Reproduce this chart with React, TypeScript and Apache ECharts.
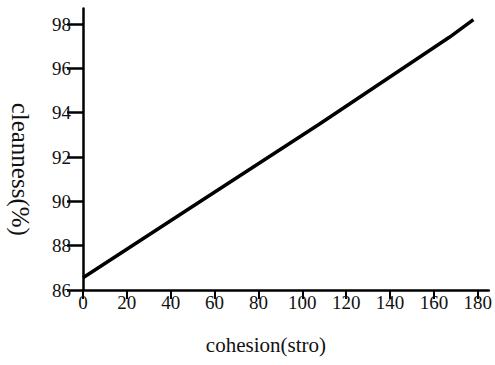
import React, { useEffect, useRef } from "react";
import * as echarts from "echarts";

// Readings of cleanness against cohesion along the fitted line
const cohesion = [0, 45, 108, 167, 178];
const cleanness = [86.55, 89.45, 93.5, 97.4, 98.2];

const FONT = "Liberation Serif";

const tickLabel = (v: number) => `{s|${v}}`;
const tickRich = { s: { fontFamily: FONT, fontSize: 19, color: "#111" } };

export default function App() {
  const ref = useRef<HTMLDivElement>(null);

  useEffect(() => {
    if (!ref.current) return;
    const chart = echarts.init(ref.current, null, { renderer: "svg" });
    chart.setOption({
      animation: false,
      backgroundColor: "#ffffff",
      textStyle: { fontFamily: FONT },
      grid: { left: 80, right: 6, top: 8.5, bottom: 75 },
      xAxis: {
        type: "value",
        min: 0,
        max: 185,
        interval: 20,
        name: "cohesion(stro)",
        nameLocation: "middle",
        nameGap: 44,
        nameTextStyle: {
          fontFamily: FONT,
          fontSize: 21,
          color: "#111",
          padding: [0, 40, 0, 0],
        },
        axisLine: { show: true, lineStyle: { color: "#000", width: 2.5 } },
        axisTick: {
          show: true,
          length: 9,
          lineStyle: { color: "#000", width: 2 },
        },
        axisLabel: {
          showMaxLabel: false,
          formatter: tickLabel,
          rich: tickRich,
          fontFamily: FONT,
          fontSize: 19,
          color: "#111",
          margin: 3,
        },
        splitLine: { show: false },
      },
      yAxis: {
        type: "value",
        min: 86,
        max: 98.7,
        interval: 2,
        name: "cleanness(%)",
        nameLocation: "middle",
        nameRotate: -90,
        nameGap: 50,
        nameTextStyle: {
          fontFamily: FONT,
          fontSize: 25,
          color: "#111",
          padding: [0, 0, 0, 40],
        },
        axisLine: { show: true, lineStyle: { color: "#000", width: 2.5 } },
        axisTick: {
          show: true,
          inside: false,
          length: 16,
          lineStyle: { color: "#000", width: 2.5, opacity: 1 },
        },
        axisLabel: {
          showMaxLabel: false,
          formatter: tickLabel,
          rich: tickRich,
          fontFamily: FONT,
          fontSize: 19,
          color: "#111",
          margin: 12,
        },
        splitLine: { show: false },
      },
      series: [
        {
          type: "line",
          data: cohesion.map((x, i) => [x, cleanness[i]]),
          showSymbol: false,
          symbol: "none",
          lineStyle: { color: "#000", width: 3.5 },
        },
      ],
    });
    return () => chart.dispose();
  }, []);

  return <div ref={ref} style={{ width: 495, height: 365, position: "absolute", left: 0, top: 0 }} />;
}
